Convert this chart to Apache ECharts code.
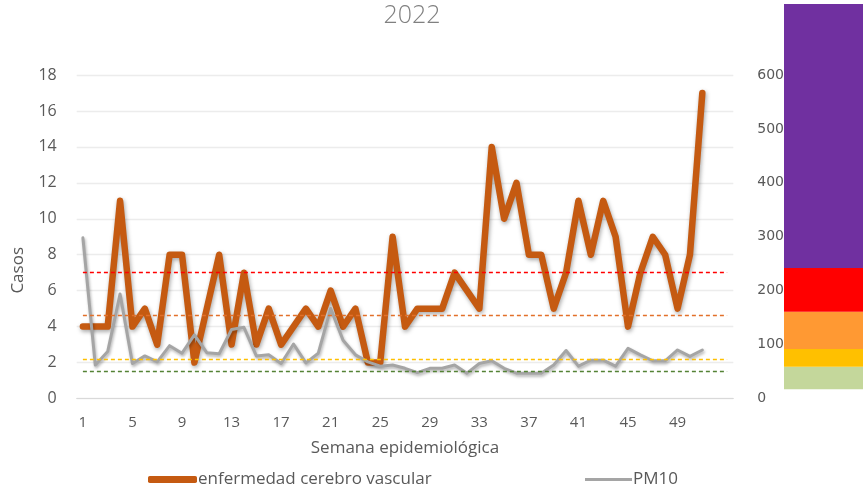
<!DOCTYPE html>
<html>
<head>
<meta charset="utf-8">
<script src="https://cdn.jsdelivr.net/npm/echarts@6/dist/echarts.min.js"></script>
<style>
  html, body { margin: 0; padding: 0; background: #ffffff; }
  #chart { width: 863px; height: 486px; }
</style>
</head>
<body>
<div id="chart"></div>
<script>
// Semanas epidemiológicas del eje X (53 posiciones, etiquetas cada 4)
const semanas = Array.from({ length: 53 }, (_, i) => String(i + 1));

// Casos semanales de enfermedad cerebro vascular (eje izquierdo)
const casosECV = [4, 4, 4, 11, 4, 5, 3, 8, 8, 2, 5, 8, 3, 7, 3, 5, 3, 4, 5, 4,
  6, 4, 5, 2, 2, 9, 4, 5, 5, 5, 7, 6, 5, 14, 10, 12, 8, 8, 5, 7,
  11, 8, 11, 9, 4, 7, 9, 8, 5, 8, 17];

// Concentración semanal de PM10 (eje derecho)
const pm10 = [298, 62, 87, 194, 65, 79, 68, 98, 84, 118, 85, 83, 128, 132, 79, 81, 65, 101, 66, 84,
  167, 108, 81, 68, 60, 62, 56, 48, 56, 56, 62, 47, 65, 70, 56, 47, 47, 47, 62, 89,
  60, 71, 71, 60, 93, 81, 70, 70, 90, 78, 90];

// Umbrales de referencia (eje derecho)
const umbrales = [234, 155, 73, 51];
const coloresUmbral = ['#ff0000', '#e2702a', '#ffc000', '#548235'];

// Franjas de la escala de calidad del aire (límites en la escala derecha)
const limitesFranjas = [17, 59, 92, 161, 242, 732];
const coloresFranjas = ['#c4d79b', '#ffc000', '#ff9933', '#ff0000', '#7030a0'];

// Marcas de los ejes
const ticksCasos = { min: 0, max: 18, interval: 2 };
const ticksPM10 = { min: 0, max: 600, interval: 100 };

const fuente = '"Open Sans", "Noto Sans", sans-serif';
const gris = '#595959';

const chart = echarts.init(document.getElementById('chart'), null, { renderer: 'canvas' });

const seriesFranjas = [{
  name: 'base',
  type: 'bar',
  xAxisIndex: 1,
  yAxisIndex: 2,
  stack: 'franjas',
  silent: true,
  barWidth: '100%',
  itemStyle: { color: 'rgba(0,0,0,0)' },
  data: [limitesFranjas[0]],
  z: 5
}];
for (let i = 0; i < coloresFranjas.length; i++) {
  seriesFranjas.push({
    name: 'franja' + i,
    type: 'bar',
    xAxisIndex: 1,
    yAxisIndex: 2,
    stack: 'franjas',
    silent: true,
    barWidth: '100%',
    clip: false,
    itemStyle: { color: coloresFranjas[i] },
    data: [limitesFranjas[i + 1] - limitesFranjas[i]],
    z: 5
  });
}

const option = {
  backgroundColor: '#ffffff',
  animation: false,
  title: {
    text: '2022',
    left: 407,
    top: -2,
    textAlign: 'center',
    textStyle: { fontFamily: fuente, fontWeight: 300, fontSize: 25, color: '#808080' }
  },
  legend: [{
    left: 143,
    top: 466,
    data: ['enfermedad cerebro vascular'],
    icon: 'roundRect',
    itemWidth: 49,
    itemHeight: 7,
    textStyle: { fontFamily: fuente, fontSize: 17, color: gris, padding: [0, 0, 0, -4] }
  }, {
    left: 580,
    top: 466,
    data: ['PM10'],
    icon: 'rect',
    itemWidth: 47,
    itemHeight: 3,
    textStyle: { fontFamily: fuente, fontSize: 17, color: gris, padding: [0, 0, 0, -4] }
  }],
  graphic: [{
    type: 'text',
    left: 10,
    top: 247,
    rotation: Math.PI / 2,
    style: { text: 'Casos', fontFamily: fuente, fontSize: 17, fill: gris }
  }],
  grid: [
    { left: 76.7, right: 129.7, top: 75, bottom: 87.5 },
    { left: 784, right: 0, top: 4, bottom: 87.5 }
  ],
  xAxis: [{
    type: 'category',
    gridIndex: 0,
    data: semanas,
    boundaryGap: true,
    name: 'Semana epidemiológica',
    nameLocation: 'middle',
    nameGap: 41,
    nameTextStyle: { fontFamily: fuente, fontSize: 17, color: gris },
    axisLine: { lineStyle: { color: '#d9d9d9', width: 1 } },
    axisTick: { show: false },
    axisLabel: {
      interval: (i) => i % 4 === 0 && i < 52,
      margin: 17,
      fontFamily: fuente,
      fontSize: 15,
      color: gris
    },
    splitLine: { show: false }
  }, {
    type: 'category',
    gridIndex: 1,
    data: ['ICA'],
    show: false
  }],
  yAxis: [{
    type: 'value',
    gridIndex: 0,
    min: ticksCasos.min,
    max: ticksCasos.max,
    interval: ticksCasos.interval,
    axisLine: { show: false },
    axisTick: { show: false },
    axisLabel: { margin: 20, fontFamily: fuente, fontSize: 16, color: gris },
    splitLine: { lineStyle: { color: '#ececec', width: 1.3 } }
  }, {
    type: 'value',
    gridIndex: 0,
    position: 'right',
    min: ticksPM10.min,
    max: ticksPM10.max,
    interval: ticksPM10.interval,
    axisLine: { show: false },
    axisTick: { show: false },
    axisLabel: { margin: 24, fontFamily: '"DejaVu Sans", Verdana, sans-serif', fontSize: 14, color: gris, align: 'left' },
    splitLine: { show: false }
  }, {
    type: 'value',
    gridIndex: 1,
    min: 0,
    max: 732,
    show: false,
    splitLine: { show: false }
  }],
  series: [{
    name: 'enfermedad cerebro vascular',
    type: 'line',
    xAxisIndex: 0,
    yAxisIndex: 0,
    data: casosECV,
    showSymbol: false,
    symbol: 'none',
    itemStyle: { color: '#c55a11' },
    lineStyle: {
      color: '#c55a11',
      width: 6.5,
      cap: 'round',
      join: 'round',
      shadowBlur: 4,
      shadowColor: 'rgba(0,0,0,0.35)',
      shadowOffsetX: 1,
      shadowOffsetY: 2
    },
    z: 2
  }, {
    name: 'PM10',
    type: 'line',
    xAxisIndex: 0,
    yAxisIndex: 1,
    data: pm10,
    showSymbol: false,
    symbol: 'none',
    itemStyle: { color: '#a5a5a5' },
    lineStyle: {
      color: '#a5a5a5',
      width: 3,
      cap: 'round',
      join: 'round',
      shadowBlur: 3,
      shadowColor: 'rgba(0,0,0,0.3)',
      shadowOffsetX: 1,
      shadowOffsetY: 2
    },
    z: 3
  }, {
    name: 'umbrales',
    type: 'line',
    xAxisIndex: 0,
    yAxisIndex: 1,
    data: [],
    silent: true,
    markLine: {
      silent: true,
      symbol: ['none', 'none'],
      label: { show: false },
      lineStyle: { type: [4, 3], width: 1.3 },
      data: umbrales.map((v, i) => [
        { coord: [0, v], lineStyle: { color: coloresUmbral[i], type: [4, 3], width: 1.3 } },
        { coord: [semanas.length - 1, v] }
      ])
    },
    z: 4
  }].concat(seriesFranjas)
};

chart.setOption(option);
</script>
</body>
</html>
